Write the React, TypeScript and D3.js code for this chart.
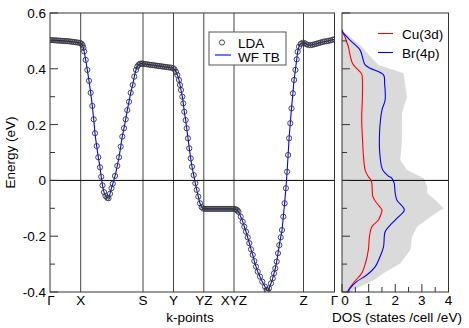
import * as d3 from "d3";

// k-path (arbitrary distance units along the path)
const kPos = [0, 30.7, 93, 123.5, 153.8, 184, 253.5, 284.5];
const kLabels = ["Γ", "X", "S", "Y", "YZ", "XYZ", "Z", "Γ"];

const eTicks = [-0.4, -0.2, 0, 0.2, 0.4, 0.6];
const eTickLabels = ["-0.4", "-0.2", "0", "0.2", "0.4", "0.6"];
const eMinor = [-0.3, -0.1, 0.1, 0.3, 0.5];

const dosTicks = [0, 1, 2, 3, 4];
const dosMinor = [0.5, 1.5, 2.5, 3.5];

// LDA band: [k, E]
const lda: [number, number][] = [
  [0, 0.503], [2, 0.503], [4, 0.502], [6, 0.502], [8, 0.501], [10, 0.501], [12, 0.5], [14, 0.5],
  [16, 0.499], [18, 0.499], [20, 0.498], [22, 0.497], [24, 0.496], [26, 0.495], [28, 0.494], [30, 0.493],
  [31.5, 0.49], [32.6, 0.484], [33.4, 0.475], [34.2, 0.462], [35.7, 0.432], [37.3, 0.396], [39, 0.357],
  [40.7, 0.314], [42.3, 0.267], [43.7, 0.219], [45, 0.169], [46.7, 0.123], [48.3, 0.083], [50, 0.047],
  [51.2, 0.013], [52.5, -0.018], [54, -0.042], [55.5, -0.056], [57.2, -0.062], [58.5, -0.064],
  [60, -0.048], [61.5, -0.028], [62.8, -0.012], [65, 0.016], [67.3, 0.052], [69, 0.083], [70.7, 0.121],
  [72.3, 0.157], [74, 0.187], [75.7, 0.219], [77.3, 0.252], [79, 0.282], [80.7, 0.314], [82.7, 0.342],
  [84.3, 0.372], [86, 0.396], [87.3, 0.408], [88.5, 0.414], [90, 0.418], [91.5, 0.419],
  [93, 0.418], [95, 0.417], [97, 0.416], [99, 0.415], [101, 0.414], [103, 0.413], [105, 0.412],
  [107, 0.411], [109, 0.41], [111, 0.409], [113, 0.408], [115, 0.407], [117, 0.406], [119, 0.405],
  [121, 0.404], [123, 0.402], [124.5, 0.398], [126, 0.389], [127.3, 0.378], [129, 0.36], [130, 0.342],
  [131, 0.324], [132.3, 0.3], [133.3, 0.276], [134.3, 0.246], [135.7, 0.216], [136.7, 0.187],
  [138, 0.151], [139.3, 0.115], [140.7, 0.079], [142, 0.049], [143.7, 0.019], [145.3, -0.01],
  [146.7, -0.034], [148.3, -0.058], [150, -0.082], [151.7, -0.096], [153.3, -0.101], [155, -0.102],
  [157, -0.102], [159, -0.102], [161, -0.102], [163, -0.102], [165, -0.102], [167, -0.102],
  [169, -0.102], [171, -0.102], [173, -0.102], [175, -0.102], [177, -0.102], [179, -0.102],
  [181, -0.102], [183, -0.102], [185, -0.103], [186.5, -0.105], [187.5, -0.108], [188.5, -0.113],
  [190.7, -0.13], [192.7, -0.148], [194.3, -0.166], [196, -0.184], [197.7, -0.204], [199.3, -0.225],
  [201, -0.247], [202.7, -0.267], [204.3, -0.289], [206, -0.309], [207.7, -0.327], [210, -0.345],
  [212.3, -0.363], [215, -0.381], [216.7, -0.393], [217.5, -0.395], [219, -0.387], [221, -0.369],
  [222.7, -0.351], [224, -0.333], [225.3, -0.315], [226.7, -0.291], [228, -0.261], [229.3, -0.232],
  [230.7, -0.204], [232, -0.178], [233.3, -0.13], [234.6, -0.082], [235.9, -0.028], [237.1, 0.031],
  [238.1, 0.091], [239.1, 0.151], [240.3, 0.205], [241.5, 0.258], [242.9, 0.312], [244.1, 0.36],
  [245.4, 0.396], [246.7, 0.434], [247.7, 0.461], [249, 0.479], [250.7, 0.489], [252.5, 0.493],
  [254.5, 0.492], [256.5, 0.488], [258.5, 0.485], [260.5, 0.485], [262.5, 0.486], [264.5, 0.488],
  [266.5, 0.49], [268.5, 0.492], [270.5, 0.494], [272.5, 0.496], [274.5, 0.498], [276.5, 0.499],
  [278.5, 0.5], [280.5, 0.502], [282.5, 0.504], [284.5, 0.506],
];

// DOS: [E, states/cell/eV]
const totalDos: [number, number][] = [
  [0.545, 0], [0.53, 0.1], [0.515, 0.3], [0.479, 0.74], [0.432, 1.18], [0.414, 1.37], [0.4, 1.8],
  [0.384, 2.31], [0.3, 2.44], [0.24, 2.25], [0.145, 2.25], [0.073, 2.19], [0.037, 2.44], [0.008, 3.07],
  [-0.022, 3.2], [-0.046, 3.2], [-0.07, 3.5], [-0.1, 3.82], [-0.13, 3.32], [-0.166, 2.82], [-0.202, 2.63],
  [-0.249, 2.57], [-0.297, 2.19], [-0.333, 1.56], [-0.357, 1.2], [-0.375, 0.8], [-0.393, 0.43], [-0.4, 0.35],
];
const cuDos: [number, number][] = [
  [0.54, 0], [0.533, 0.01], [0.515, 0.11], [0.495, 0.18], [0.479, 0.24], [0.45, 0.3], [0.425, 0.37],
  [0.414, 0.43], [0.395, 0.62], [0.381, 0.74], [0.336, 0.77], [0.28, 0.76], [0.228, 0.74], [0.145, 0.77],
  [0.085, 0.81], [0.037, 0.87], [0.015, 0.98], [0.005, 1.06], [-0.01, 1.12], [-0.058, 1.16], [-0.082, 1.31],
  [-0.106, 1.5], [-0.125, 1.45], [-0.142, 1.37], [-0.166, 1.12], [-0.202, 1.03], [-0.249, 0.99],
  [-0.297, 0.88], [-0.333, 0.74], [-0.357, 0.52], [-0.381, 0.32], [-0.399, 0.2],
];
const brDos: [number, number][] = [
  [0.54, 0], [0.533, 0.02], [0.503, 0.3], [0.467, 0.68], [0.43, 0.8], [0.414, 0.87], [0.402, 1.06],
  [0.378, 1.56], [0.348, 1.6], [0.288, 1.62], [0.252, 1.5], [0.169, 1.41], [0.085, 1.43], [0.037, 1.53],
  [0.015, 1.75], [0.008, 1.87], [-0.01, 1.96], [-0.046, 2.0], [-0.07, 2.06], [-0.106, 2.34], [-0.13, 2.13],
  [-0.16, 1.81], [-0.184, 1.62], [-0.238, 1.56], [-0.273, 1.43], [-0.309, 1.25], [-0.339, 0.93],
  [-0.363, 0.55], [-0.387, 0.3], [-0.4, 0.22],
];

const FONT = "'Liberation Sans', Arial, sans-serif";

export default function App() {
  const top = 13, bottom = 292;
  const kx = d3.scaleLinear().domain([0, 284.5]).range([50, 334.5]);
  const y = d3.scaleLinear().domain([-0.4, 0.6]).range([bottom, top]);
  const dx = d3.scaleLinear().domain([0, 4]).range([342, 448.5]);

  const bandLine = d3.line<[number, number]>()
    .x((d) => kx(d[0]))
    .y((d) => y(d[1]))
    .curve(d3.curveMonotoneX);

  const dosLine = d3.line<[number, number]>()
    .x((d) => dx(d[1]))
    .y((d) => y(d[0]))
    .curve(d3.curveCatmullRom);

  const dosArea = d3.area<[number, number]>()
    .y((d) => y(d[0]))
    .x0(dx(0))
    .x1((d) => dx(d[1]))
    .curve(d3.curveLinear);

  const x0 = kx.range()[0], x1 = kx.range()[1];
  const r0 = dx.range()[0], r1 = dx.range()[1];

  return (
    <svg width={469} height={328} style={{ position: "absolute", left: 0, top: 0, background: "#fff" }}
      fontFamily={FONT}>
      <defs>
        <clipPath id="clipL"><rect x={x0} y={top} width={x1 - x0} height={bottom - top} /></clipPath>
        <clipPath id="clipR"><rect x={r0} y={top} width={r1 - r0} height={bottom - top} /></clipPath>
      </defs>

      {/* band structure panel */}
      <g clipPath="url(#clipL)">
        {kPos.slice(1, -1).map((k, i) => (
          <line key={i} x1={kx(k)} x2={kx(k)} y1={top} y2={bottom} stroke="#444" strokeWidth={1} />
        ))}
        <line x1={x0} x2={x1} y1={y(0)} y2={y(0)} stroke="#000" strokeWidth={1} />
        <path d={bandLine(lda) ?? ""} fill="none" stroke="#0000ff" strokeWidth={1.1} />
        {lda.map((d, i) => (
          <circle key={i} cx={kx(d[0])} cy={y(d[1])} r={2.6} fill="none" stroke="#333" strokeWidth={0.9} />
        ))}
      </g>
      <rect x={x0} y={top} width={x1 - x0} height={bottom - top} fill="none" stroke="#333" strokeWidth={1} />
      {eTicks.map((t, i) => (
        <g key={i}>
          <line x1={x0} x2={x0 + 8} y1={y(t)} y2={y(t)} stroke="#333" />
          <text x={x0 - 4} y={y(t) + 5} textAnchor="end" fontSize={13.5}>{eTickLabels[i]}</text>
        </g>
      ))}
      {eMinor.map((t, i) => (
        <line key={i} x1={x0} x2={x0 + 5} y1={y(t)} y2={y(t)} stroke="#333" />
      ))}
      {kPos.map((k, i) => (
        <text key={i} x={kx(k) + (i === 0 ? 1 : 0)} y={305} textAnchor="middle" fontSize={13.5}>{kLabels[i]}</text>
      ))}
      <text x={190} y={322} textAnchor="middle" fontSize={13.5}>k-points</text>
      <text transform={`translate(15,${(top + bottom) / 2}) rotate(-90)`} textAnchor="middle" fontSize={13.5}>
        Energy (eV)
      </text>

      {/* legend */}
      <rect x={209} y={32} width={77} height={33} fill="#fff" stroke="#555" strokeWidth={1} />
      <circle cx={222} cy={42.5} r={2.6} fill="none" stroke="#333" strokeWidth={0.9} />
      <text x={238} y={47.5} fontSize={13.5}>LDA</text>
      <line x1={215} x2={231} y1={55} y2={55} stroke="#0000ff" strokeWidth={1.1} />
      <text x={238} y={61.5} fontSize={13.5}>WF TB</text>

      {/* DOS panel */}
      <g clipPath="url(#clipR)">
        <path d={dosArea(totalDos) ?? ""} fill="#dadada" />
        <line x1={r0} x2={r1} y1={y(0)} y2={y(0)} stroke="#000" strokeWidth={1} />
        <path d={dosLine(cuDos) ?? ""} fill="none" stroke="#ff0000" strokeWidth={1.1} />
        <path d={dosLine(brDos) ?? ""} fill="none" stroke="#0000ff" strokeWidth={1.1} />
      </g>
      <rect x={r0} y={top} width={r1 - r0} height={bottom - top} fill="none" stroke="#333" strokeWidth={1} />
      {eTicks.map((t, i) => (
        <line key={i} x1={r0} x2={r0 + 8} y1={y(t)} y2={y(t)} stroke="#333" />
      ))}
      {eMinor.map((t, i) => (
        <line key={i} x1={r0} x2={r0 + 5} y1={y(t)} y2={y(t)} stroke="#333" />
      ))}
      {dosTicks.map((t, i) => (
        <g key={i}>
          <line x1={dx(t)} x2={dx(t)} y1={bottom} y2={bottom - 8} stroke="#333" />
          <text x={dx(t) + (i === 0 ? 3 : 0)} y={305} textAnchor="middle" fontSize={13.5}>{t}</text>
        </g>
      ))}
      {dosMinor.map((t, i) => (
        <line key={i} x1={dx(t)} x2={dx(t)} y1={bottom} y2={bottom - 5} stroke="#333" />
      ))}
      <text x={397} y={322} textAnchor="middle" fontSize={13.5}>DOS (states /cell /eV)</text>

      <line x1={378} x2={393} y1={33.5} y2={33.5} stroke="#ff0000" strokeWidth={1.1} />
      <text x={402} y={38.5} fontSize={13.5}>Cu(3d)</text>
      <line x1={378} x2={393} y1={52.5} y2={52.5} stroke="#0000ff" strokeWidth={1.1} />
      <text x={402} y={57.5} fontSize={13.5}>Br(4p)</text>
    </svg>
  );
}
